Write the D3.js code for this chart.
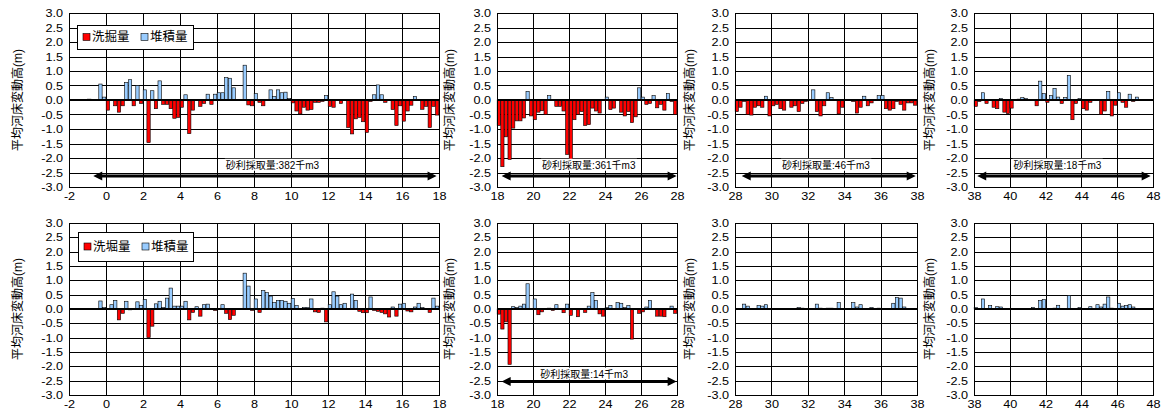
<!DOCTYPE html>
<html>
<head>
<meta charset="utf-8">
<script src="https://cdn.jsdelivr.net/npm/d3@7"></script>
<style>
  body { margin: 0; background: #fff; }
  text { font-family: "Liberation Sans", Arial, "Noto Sans CJK JP", sans-serif; fill: #000; }
</style>
</head>
<body>
<svg id="chart" width="1172" height="418"></svg>
<script>
// tick labels
const yTickValues = [-3.0, -2.5, -2.0, -1.5, -1.0, -0.5, 0.0, 0.5, 1.0, 1.5, 2.0, 2.5, 3.0];
const xTicks1 = [-2, 0, 2, 4, 6, 8, 10, 12, 14, 16, 18];
const xTicks2 = [18, 20, 22, 24, 26, 28];
const xTicks3 = [28, 30, 32, 34, 36, 38];
const xTicks4 = [38, 40, 42, 44, 46, 48];

// first section centre (km) of each panel, sections every 0.2 km
const kmStart = [-0.9, 18.1, 28.1, 38.1];
const kmStep = 0.2;

// 平均河床変動高 (m), upper row
const upper1 = [0.03, 0, 0, 0.55, 0.1, -0.35, 0, -0.2, -0.42, -0.2, 0.6, 0.7, -0.2, 0.5, -0.12, 0.35,
  -1.47, 0.32, -0.3, 0.66, -0.15, -0.15, -0.3, -0.63, -0.6, -0.25, 0.18, -1.16, -0.35, 0, -0.22, -0.12,
  0.2, -0.15, 0.2, 0.25, 0.25, 0.77, 0.75, 0.42, 0, 0.02, 1.2, -0.17, -0.2, 0.22, -0.08, -0.2, 0, 0.35,
  0.12, 0.35, 0.25, 0.27, 0.05, -0.1, -0.38, -0.48, -0.25, -0.35, -0.33, -0.08, -0.08, -0.05, 0.15,
  -0.22, -0.25, 0, -0.12, 0, -0.95, -1.17, -0.65, -0.6, -0.75, -1.12, -0.05, 0.18, 0.52, 0.18, -0.08, 0,
  -0.33, -0.88, -0.2, -0.73, -0.38, -0.18, 0.12, 0, -0.32, -0.22, -0.95, -0.22, -0.52];
const upper2 = [-0.88, -2.3, -1.27, -2.05, -0.97, -0.72, -0.72, -0.62, 0.3, -0.55,
  -0.68, -0.42, -0.37, -0.5, 0.15, 0, -0.22, -0.22, -0.38, -1.88,
  -2.15, -0.68, -0.5, -0.4, -0.88, -0.85, -0.28, -0.38, -0.45, -0.02,
  0.1, -0.33, -0.28, 0, -0.42, -0.55, -0.4, -0.78, -0.58, 0.42,
  0.1, -0.15, -0.12, 0.15, -0.27, -0.15, -0.35, 0.22, -0.05, -0.5];
const upper3 = [-0.4, -0.25, -0.05, -0.5, -0.52, -0.25, -0.2, -0.25, 0.13, -0.55,
  -0.2, -0.15, -0.3, -0.35, 0, -0.25, -0.2, -0.4, -0.12, -0.05,
  0, 0.35, -0.4, -0.55, -0.2, 0.25, 0.08, 0, -0.48, -0.25,
  0, 0, -0.05, -0.45, -0.25, 0.13, -0.2, -0.1, 0, 0.15,
  0.15, -0.3, -0.35, -0.3, -0.05, -0.15, -0.35, -0.1, -0.1, -0.18];
const upper4 = [-0.22, -0.05, 0.25, -0.12, 0, -0.25, -0.3, 0.05, -0.42, -0.47,
  -0.28, 0.02, 0.03, 0.08, 0.05, 0, 0, -0.2, 0.65, 0.22,
  -0.08, 0.15, 0.4, 0.1, -0.12, 0.08, 0.85, -0.68, -0.12, 0.05,
  -0.3, -0.35, -0.08, 0, 0, -0.5, -0.38, 0.3, -0.55, -0.18,
  0.25, -0.08, -0.25, 0.2, -0.05, 0.1];

// lower row
const lower1 = [0.02, 0, 0, 0.28, 0.05, -0.02, 0.15, 0.3, -0.38, -0.15, 0.27, -0.03, 0,
  0.25, 0.13, 0.33, -1.0, -0.6, 0.18, 0.27, 0.05, 0.38, 0.73,
  0.1, 0.1, 0.1, 0.27, -0.38, -0.12, 0.08, -0.25, 0.15, 0.17,
  0, -0.05, 0, 0.15, -0.15, -0.37, -0.22, 0.02, 0.02, 1.25,
  0.8, -0.05, 0.35, -0.12, 0.65, 0.57, 0.45, 0.22, 0.3, 0.3,
  0.27, 0.2, 0.37, 0.12, 0, 0.05, 0.05, 0.35, -0.1, -0.12,
  0.03, -0.45, 0.15, 0.6, 0.45, 0.15, 0.2, 0, 0.52, 0.3,
  -0.08, -0.13, -0.13, 0.42, -0.05, -0.08, -0.12, -0.17, -0.28, 0.07,
  -0.25, 0.17, 0.2, -0.07, -0.1, 0.07, 0.2, 0.05, 0, -0.12, 0.38, 0.1];
const lower2 = [-0.18, -0.7, -0.45, -1.93, 0.08, 0.05, 0.1, 0.17, 0.88, 0,
  0.35, -0.2, -0.1, 0, 0.03, -0.05, 0.15, 0.02, -0.13, 0.17,
  -0.22, 0, -0.27, 0, -0.12, 0.1, 0.57, 0.3, -0.17, -0.25,
  0.05, 0.12, 0.02, 0.22, 0.2, 0.05, 0.12, -1.05, 0, -0.15,
  -0.1, 0.07, 0.3, 0, -0.25, -0.25, -0.27, 0, 0.1, -0.15];
const lower3 = [0, 0, 0.17, 0.1, 0, 0, 0.12, 0.1, 0.15, 0,
  0, 0.02, 0.02, 0.02, 0, 0.02, 0, 0.05, 0.03, 0,
  0, 0, 0.17, 0.03, 0, 0.03, 0.03, 0, 0.22, 0,
  0, 0, 0.22, 0.07, 0.15, 0, 0, 0.05, 0, 0.03,
  0, 0, 0, 0.2, 0.4, 0.38, 0.07, 0, 0, 0];
const lower4 = [0.05, 0, 0.35, 0, 0.12, 0, 0.08, 0.07, 0, 0,
  0, 0, 0, 0, 0.02, 0, 0.05, 0, 0.3, 0.33,
  0, 0, 0.03, 0.13, 0, 0, 0.47, 0, 0, 0.05,
  0, 0.02, 0.08, 0, 0.15, 0.07, 0.17, 0.42, 0.03, 0,
  0.2, 0.1, 0.12, 0.15, 0.07, 0];

const extraction = ["砂利採取量:382千m3", "砂利採取量:361千m3", "砂利採取量:46千m3", "砂利採取量:18千m3", "砂利採取量:14千m3"];
const yTitle = "平均河床変動高(m)";

const rows = [
  { top: 13, bottom: 187, arrowY: -2.62, noteY: -2.25 },
  { top: 223, bottom: 395, arrowY: -2.53, noteY: -2.27 }
];

const panels = [
  { row: 0, left: 69, right: 439, dom: [-2, 18], ticks: xTicks1, start: kmStart[0], vals: upper1, titleX: 18,
    legend: ["洗掘量", "堆積量"], legendBox: [77, 25, 193, 49], note: extraction[0], noteX: 9.0, arrow: [-0.69, 17.87] },
  { row: 0, left: 497, right: 677, dom: [18, 28], ticks: xTicks2, start: kmStart[1], vals: upper2, titleX: 450,
    note: extraction[1], noteX: 23.1, arrow: [18.26, 27.98] },
  { row: 0, left: 735, right: 917, dom: [28, 38], ticks: xTicks3, start: kmStart[2], vals: upper3, titleX: 690,
    note: extraction[2], noteX: 33.0, arrow: [28.37, 37.93] },
  { row: 0, left: 974, right: 1153, dom: [38, 48], ticks: xTicks4, start: kmStart[3], vals: upper4, titleX: 930,
    note: extraction[3], noteX: 42.66, arrow: [38.18, 47.87] },
  { row: 1, left: 69, right: 439, dom: [-2, 18], ticks: xTicks1, start: kmStart[0], vals: lower1, titleX: 18,
    legend: ["洗堀量", "堆積量"], legendBox: [78, 232, 193, 261] },
  { row: 1, left: 497, right: 677, dom: [18, 28], ticks: xTicks2, start: kmStart[1], vals: lower2, titleX: 450,
    note: extraction[4], noteX: 22.84, arrow: [18.26, 27.98] },
  { row: 1, left: 735, right: 917, dom: [28, 38], ticks: xTicks3, start: kmStart[2], vals: lower3, titleX: 690 },
  { row: 1, left: 974, right: 1153, dom: [38, 48], ticks: xTicks4, start: kmStart[3], vals: lower4, titleX: 930 }
];

const RED = "#ff0000", BLUE = "#99ccff";
const SX = 1.15; // tick labels are drawn a little wide, like the original
const svg = d3.select("#chart");
svg.append("rect").attr("width", 1172).attr("height", 418).attr("fill", "#fff");

const crisp = v => Math.round(v) + 0.5;

panels.forEach(function(p) {
  const r = rows[p.row];
  const x = d3.scaleLinear().domain(p.dom).range([p.left, p.right]);
  const y = d3.scaleLinear().domain([-3, 3]).range([r.bottom, r.top]);
  const g = svg.append("g");

  // grid
  g.selectAll(".hg").data(yTickValues).enter().append("line")
    .attr("x1", p.left).attr("x2", p.right)
    .attr("y1", d => crisp(y(d))).attr("y2", d => crisp(y(d)))
    .attr("stroke", "#000").attr("stroke-width", 1);
  g.selectAll(".vg").data(p.ticks).enter().append("line")
    .attr("y1", r.top).attr("y2", r.bottom)
    .attr("x1", d => crisp(x(d))).attr("x2", d => crisp(x(d)))
    .attr("stroke", "#000").attr("stroke-width", 1);

  // bars
  const data = p.vals.map((v, i) => ({ km: p.start + i * kmStep, v: v })).filter(d => d.v !== 0);
  const bw = x(0.18) - x(0);
  g.selectAll(".bar").data(data).enter().append("rect")
    .attr("x", d => x(d.km) - bw / 2)
    .attr("width", bw)
    .attr("y", d => y(Math.max(0, d.v)))
    .attr("height", d => Math.abs(y(d.v) - y(0)))
    .attr("fill", d => d.v < 0 ? RED : BLUE)
    .attr("stroke", "#000").attr("stroke-width", 0.6);

  // zero line
  g.append("line").attr("x1", p.left).attr("x2", p.right)
    .attr("y1", y(0)).attr("y2", y(0))
    .attr("stroke", "#000").attr("stroke-width", 1.8);

  // frame
  g.append("rect").attr("x", crisp(p.left)).attr("y", crisp(r.top))
    .attr("width", Math.round(p.right - p.left)).attr("height", Math.round(r.bottom - r.top))
    .attr("fill", "none").attr("stroke", "#000").attr("stroke-width", 1);

  // axes
  const ya = g.append("g").attr("transform", "translate(" + p.left + ",0)")
    .call(d3.axisLeft(y).tickValues(yTickValues).tickFormat(d => d.toFixed(1)).tickSize(0).tickPadding(6));
  ya.select(".domain").remove();
  ya.selectAll("text").attr("font-size", 11).attr("font-family", null)
    .attr("x", -6 / SX).attr("transform", "scale(" + SX + ",1)");

  const xa = g.append("g").attr("transform", "translate(0," + r.bottom + ")")
    .call(d3.axisBottom(x).tickValues(p.ticks).tickFormat(d => String(d)).tickSize(0).tickPadding(5));
  xa.select(".domain").remove();
  xa.selectAll("text").attr("font-size", 11).attr("font-family", null)
    .attr("transform", "scale(" + SX + ",1)");

  // y title
  g.append("text")
    .attr("transform", "translate(" + p.titleX + "," + ((r.top + r.bottom) / 2) + ") rotate(-90)")
    .attr("text-anchor", "middle").attr("dominant-baseline", "central")
    .attr("font-size", 12).text(yTitle);

  // legend
  if (p.legend) {
    const b = p.legendBox;
    const cy = (b[1] + b[3]) / 2;
    g.append("rect").attr("x", b[0] + 0.5).attr("y", b[1] + 0.5)
      .attr("width", b[2] - b[0]).attr("height", b[3] - b[1])
      .attr("fill", "#fff").attr("stroke", "#000").attr("stroke-width", 1);
    const items = [{ name: p.legend[0], c: RED, dx: 6 }, { name: p.legend[1], c: BLUE, dx: 64 }];
    items.forEach(function(it) {
      g.append("rect").attr("x", b[0] + it.dx).attr("y", cy - 3.5)
        .attr("width", 7).attr("height", 7)
        .attr("fill", it.c).attr("stroke", "#000").attr("stroke-width", 0.6);
      g.append("text").attr("x", b[0] + it.dx + 9).attr("y", cy)
        .attr("dominant-baseline", "central").attr("font-size", 12.5).text(it.name);
    });
  }

  // extraction arrow and note
  if (p.note) {
    const ay = y(r.arrowY);
    const xa1 = x(p.arrow[0]), xa2 = x(p.arrow[1]);
    const hl = 9, hw = 4.5;
    g.append("line").attr("x1", xa1 + hl - 1).attr("x2", xa2 - hl + 1)
      .attr("y1", ay).attr("y2", ay)
      .attr("stroke", "#000").attr("stroke-width", 3);
    g.append("path")
      .attr("d", "M" + xa1 + "," + ay + "L" + (xa1 + hl) + "," + (ay - hw) + "L" + (xa1 + hl) + "," + (ay + hw) + "Z" +
                 "M" + xa2 + "," + ay + "L" + (xa2 - hl) + "," + (ay - hw) + "L" + (xa2 - hl) + "," + (ay + hw) + "Z")
      .attr("fill", "#000");
    const bg = g.append("rect").attr("fill", "#fff");
    const t = g.append("text").attr("x", x(p.noteX)).attr("y", y(r.noteY))
      .attr("text-anchor", "middle").attr("dominant-baseline", "central")
      .attr("font-size", 10).text(p.note);
    const bb = t.node().getBBox();
    bg.attr("x", bb.x - 1).attr("y", bb.y).attr("width", bb.width + 2).attr("height", bb.height);
  }
});
</script>
</body>
</html>
